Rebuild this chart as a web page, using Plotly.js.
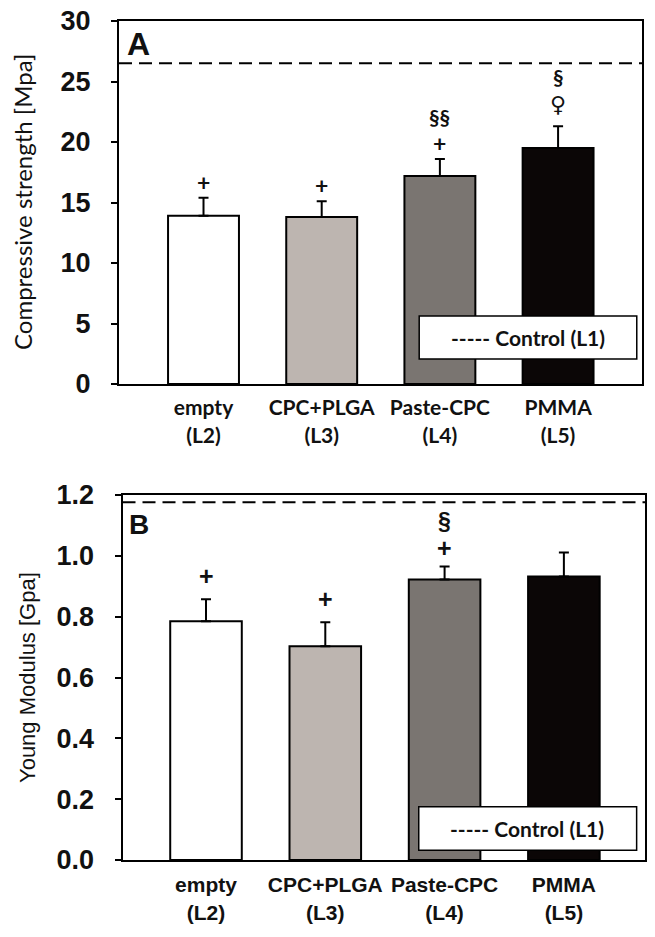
<!DOCTYPE html>
<html>
<head>
<meta charset="utf-8">
<script src="https://cdn.plot.ly/plotly-3.0.1.min.js"></script>
<style>html,body{margin:0;padding:0;background:#fff;}#chart{width:655px;height:937px;}</style>
</head>
<body>
<div id="chart"></div>
<script>
// ---- data ----
const categories = ['empty', 'CPC+PLGA', 'Paste-CPC', 'PMMA'];
const groupLabels = ['(L2)', '(L3)', '(L4)', '(L5)'];
const strengthMean = [13.9, 13.8, 17.2, 19.5];
const strengthErr = [1.5, 1.3, 1.4, 1.8];
const strengthControl = 26.5;
const modulusMean = [0.785, 0.703, 0.922, 0.932];
const modulusErr = [0.072, 0.079, 0.043, 0.079];
const modulusControl = 1.176;
const strengthMarks = [['+'], ['+'], ['+', '§§'], ['♀', '§']];
const modulusMarks = [['+'], ['+'], ['+', '§'], []];
const legendText = '----- Control (L1)';
const strengthTitle = 'Compressive strength [Mpa]';
const modulusTitle = 'Young Modulus [Gpa]';

// ---- styles ----
const barColors = ['#ffffff', '#bdb5b0', '#7a7571', '#0b0606'];
const calibri = 'Lato, "Open Sans", "DejaVu Sans", sans-serif';
const arial = '"Liberation Sans", Arial, sans-serif';
const tickText = categories.map((c, i) => c + '<br>' + groupLabels[i]);
const zeros = categories.map(() => 0);

function barTrace(vals, errs, xa, ya) {
  return {
    type: 'bar', x: categories, y: vals, xaxis: xa, yaxis: ya,
    width: 0.6,
    marker: {color: barColors, line: {color: '#000', width: 2}},
    error_y: {type: 'data', symmetric: false, array: errs, arrayminus: zeros,
              color: '#000', thickness: 2, width: 5},
    hoverinfo: 'skip', showlegend: false
  };
}

const data = [
  barTrace(strengthMean, strengthErr, 'x', 'y'),
  barTrace(modulusMean, modulusErr, 'x2', 'y2')
];

const frame = {showline: true, mirror: true, linecolor: '#000', linewidth: 2, zeroline: false,
               showgrid: false, automargin: false};

const layout = {
  width: 655, height: 937,
  margin: {l: 0, r: 0, t: 0, b: 0},
  paper_bgcolor: '#fff', plot_bgcolor: '#fff',
  showlegend: false,
  bargap: 0.4,
  xaxis: Object.assign({}, frame, {
    domain: [119/655, 642/655], anchor: 'y', type: 'category',
    range: [-0.715, 3.71], tickvals: categories, ticktext: tickText,
    ticks: '', ticklabelstandoff: 4, tickangle: 0,
    tickfont: {family: calibri, size: 21, weight: 'bold', color: '#111'}
  }),
  yaxis: Object.assign({}, frame, {
    domain: [1 - 384/937, 1 - 21/937], anchor: 'x',
    range: [0, 30], tickvals: [0, 5, 10, 15, 20, 25, 30],
    ticks: 'outside', ticklen: 6, tickwidth: 2, tickcolor: '#000',
    ticklabelstandoff: 15,
    tickfont: {family: arial, size: 27, weight: 'bold', color: '#111'}
  }),
  xaxis2: Object.assign({}, frame, {
    domain: [122.5/655, 645/655], anchor: 'y2', type: 'category',
    range: [-0.70, 3.68], tickvals: categories, ticktext: tickText,
    ticks: '', ticklabelstandoff: 5, tickangle: 0,
    tickfont: {family: arial, size: 21, weight: 'bold', color: '#111'}
  }),
  yaxis2: Object.assign({}, frame, {
    domain: [1 - 860/937, 1 - 495/937], anchor: 'x2',
    range: [0, 1.2], tickvals: [0, 0.2, 0.4, 0.6, 0.8, 1.0, 1.2],
    ticktext: ['0.0', '0.2', '0.4', '0.6', '0.8', '1.0', '1.2'],
    ticks: 'outside', ticklen: 6, tickwidth: 2, tickcolor: '#000',
    ticklabelstandoff: 15,
    tickfont: {family: arial, size: 27, weight: 'bold', color: '#111'}
  }),
  shapes: [
    {type: 'line', xref: 'x domain', yref: 'y', x0: 0, x1: 1, y0: strengthControl, y1: strengthControl,
     line: {color: '#000', width: 2, dash: '13px,7px'}},
    {type: 'line', xref: 'x2 domain', yref: 'y2', x0: 0, x1: 1, y0: modulusControl, y1: modulusControl,
     line: {color: '#000', width: 2, dash: '13px,7px'}},
    {type: 'rect', xref: 'x domain', yref: 'y domain', x0: 0.574, x1: 0.990, y0: 0.069, y1: 0.187,
     fillcolor: '#fff', line: {color: '#000', width: 1.5}, layer: 'above'},
    {type: 'rect', xref: 'x2 domain', yref: 'y2 domain', x0: 0.567, x1: 0.984, y0: 0.027, y1: 0.146,
     fillcolor: '#fff', line: {color: '#000', width: 1.5}, layer: 'above'}
  ],
  annotations: []
};

const A = layout.annotations;
// y-axis titles
A.push({xref: 'paper', yref: 'paper', x: 22/655, y: 1 - 202/937, xanchor: 'center', yanchor: 'middle',
        textangle: -90, text: strengthTitle, showarrow: false,
        font: {family: calibri, size: 24, color: '#111'}});
A.push({xref: 'paper', yref: 'paper', x: 27/655, y: 1 - 678/937, xanchor: 'center', yanchor: 'middle',
        textangle: -90, text: modulusTitle, showarrow: false,
        font: {family: arial, size: 22, color: '#111'}});
// legend boxes' text
A.push({xref: 'x domain', yref: 'y domain', x: 0.782, y: 0.128, xanchor: 'center', yanchor: 'middle',
        text: legendText, showarrow: false,
        font: {family: calibri, size: 21, weight: 'bold', color: '#111'}});
A.push({xref: 'x2 domain', yref: 'y2 domain', x: 0.775, y: 0.087, xanchor: 'center', yanchor: 'middle',
        text: legendText, showarrow: false,
        font: {family: calibri, size: 21, weight: 'bold', color: '#111'}});
// panel letters
A.push({xref: 'x domain', yref: 'y domain', x: 0.012, y: 0.938, xanchor: 'left', yanchor: 'middle',
        text: 'A', showarrow: false,
        font: {family: arial, size: 32, weight: 'bold', color: '#111'}});
A.push({xref: 'x2 domain', yref: 'y2 domain', x: 0.008, y: 0.918, xanchor: 'left', yanchor: 'middle',
        text: 'B', showarrow: false,
        font: {family: arial, size: 28, weight: 'bold', color: '#111'}});

// significance marks stacked above the error bars
const topShift = {'+': 16, '§§': 42, '♀': 22, '§': 50};
const topSize = {'+': 23, '§§': 21, '♀': 22, '§': 21};
strengthMarks.forEach((marks, i) => {
  marks.forEach(m => {
    A.push({xref: 'x', yref: 'y', x: categories[i], y: strengthMean[i] + strengthErr[i],
            xanchor: 'center', yanchor: 'middle', yshift: topShift[m], text: m, showarrow: false,
            font: {family: m === '♀' ? '"DejaVu Sans", sans-serif' : calibri,
                   size: topSize[m], weight: 'bold', color: '#111'}});
  });
});
modulusMarks.forEach((marks, i) => {
  marks.forEach((m, k) => {
    const shift = k === 0 ? (i === 2 ? 18 : 23) : 45;
    A.push({xref: 'x2', yref: 'y2', x: categories[i], y: modulusMean[i] + modulusErr[i],
            xanchor: 'center', yanchor: 'middle', yshift: shift, text: m, showarrow: false,
            font: {family: arial, size: k === 0 ? 25 : 23, weight: 'bold', color: '#111'}});
  });
});

Plotly.newPlot('chart', data, layout, {staticPlot: true, displayModeBar: false});
</script>
</body>
</html>
